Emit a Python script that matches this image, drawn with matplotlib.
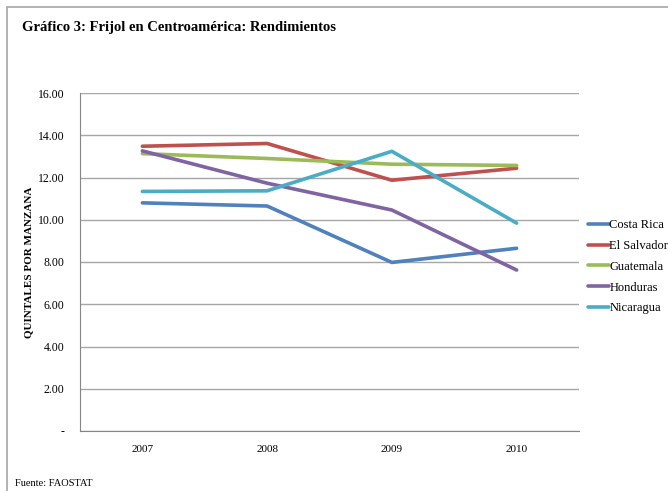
import matplotlib.pyplot as plt
from matplotlib.patches import Rectangle

# datos (quintales por manzana)
years = ['2007', '2008', '2009', '2010']
costa_rica = [10.80, 10.65, 7.98, 8.65]
el_salvador = [13.48, 13.61, 11.87, 12.44]
guatemala = [13.13, 12.90, 12.63, 12.57]
honduras = [13.26, 11.73, 10.46, 7.62]
nicaragua = [11.34, 11.37, 13.24, 9.84]

series = [
    ('Costa Rica', costa_rica, '#4F81BD'),
    ('El Salvador', el_salvador, '#C0504D'),
    ('Guatemala', guatemala, '#9BBB59'),
    ('Honduras', honduras, '#8064A2'),
    ('Nicaragua', nicaragua, '#4BACC6'),
]
y_ticks = [0, 2, 4, 6, 8, 10, 12, 14, 16]

plt.rcParams['font.family'] = ['Liberation Serif', 'DejaVu Serif']

W, H = 668, 491
fig = plt.figure(figsize=(W / 100, H / 100), dpi=100)

# marco del grafico
fig.patches.append(Rectangle((7 / W, -0.1), 1.2, 1 - 7 / H + 0.1,
                             transform=fig.transFigure, fill=False,
                             edgecolor='#A6A6A6', linewidth=1.2))

ax = fig.add_axes([80 / W, (H - 431) / H, (579 - 80) / W, (431 - 93) / H])
x = range(len(years))
for name, vals, color in series:
    ax.plot(x, vals, color=color, linewidth=2.6, label=name,
            solid_capstyle='round')

ax.set_xlim(-0.5, 3.5)
ax.set_ylim(0, 16)
ax.set_xticks(list(x))
ax.set_xticklabels(years)
ax.set_yticks(y_ticks)
ax.set_yticklabels(['-' if v == 0 else f'{v:.2f}' for v in y_ticks])
ax.tick_params(length=0, labelsize=8, colors='black')
ax.tick_params(axis='y', labelsize=8.5, pad=11)
ax.tick_params(axis='x', pad=10)
ax.grid(axis='y', color='#A6A6A6', linewidth=1)
ax.set_axisbelow(True)
for s in ['top', 'right']:
    ax.spines[s].set_visible(False)
for s in ['left', 'bottom']:
    ax.spines[s].set_color('#868686')

ax.set_ylabel('QUINTALES POR MANZANA', fontsize=8, fontweight='bold')
ax.yaxis.set_label_coords(-0.094, 0.5)

fig.text(22 / W, 1 - 27 / H, 'Gráfico 3: Frijol en Centroamérica: Rendimientos',
         fontsize=10.5, fontweight='bold', va='center')
fig.text(15 / W, 1 - 483 / H, 'Fuente: FAOSTAT', fontsize=7.5, va='center')

fig.legend(loc='upper left', bbox_to_anchor=(588 / W, 1 - 219 / H),
           frameon=False, fontsize=9, handlelength=1.7, handletextpad=0.0,
           labelspacing=0.71, borderaxespad=0, borderpad=0)

fig.savefig('out.png', dpi=100)
